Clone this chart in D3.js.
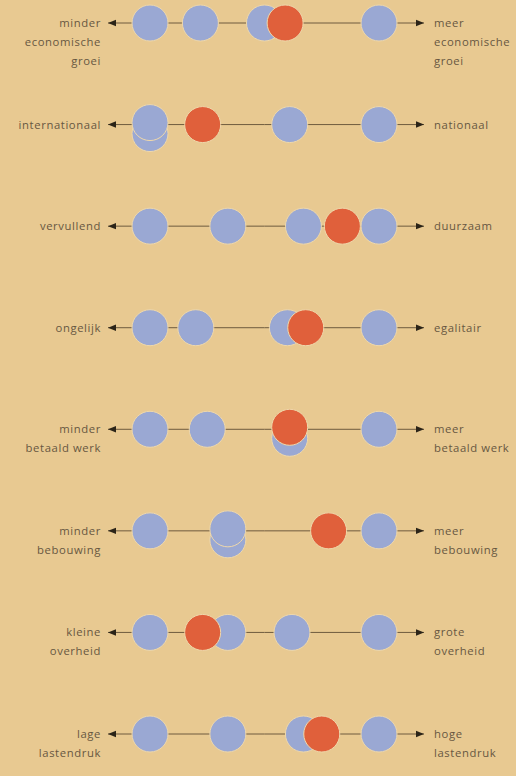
<!DOCTYPE html>
<html>
<head>
<meta charset="utf-8">
<script src="https://d3js.org/d3.v7.min.js"></script>
<style>
  body { margin: 0; background: #e8c991; }
  svg { display: block; }
  .label { font-family: "Open Sans", sans-serif; font-size: 11.3px; letter-spacing: 0.6px; fill: #675741; }
</style>
</head>
<body>
<div id="chart"></div>
<script>
// one row per theme, left pole / right pole
var leftLabels = [
  ["minder", "economische", "groei"],
  ["internationaal"],
  ["vervullend"],
  ["ongelijk"],
  ["minder", "betaald werk"],
  ["minder", "bebouwing"],
  ["kleine", "overheid"],
  ["lage", "lastendruk"]
];
var rightLabels = [
  ["meer", "economische", "groei"],
  ["nationaal"],
  ["duurzaam"],
  ["egalitair"],
  ["meer", "betaald werk"],
  ["meer", "bebouwing"],
  ["grote", "overheid"],
  ["hoge", "lastendruk"]
];
// position on the scale 0 (left) .. 100 (right)
var blueValues = [
  [0, 22, 50, 100],
  [0, 0, 61, 100],
  [0, 34, 67, 100],
  [0, 20, 60, 100],
  [0, 25, 61, 100],
  [0, 34, 34, 100],
  [0, 34, 62, 100],
  [0, 34, 67, 100]
];
var redValues = [59, 23, 84, 68, 61, 78, 23, 75];

var width = 516, height = 776;
var r = 18;

var svg = d3.select("#chart").append("svg")
  .attr("width", width)
  .attr("height", height);

var x = d3.scaleLinear().domain([0, 100]).range([150, 379]);
var y = d3.scalePoint().domain(d3.range(leftLabels.length)).range([23, 734]);

var defs = svg.append("defs");
defs.append("marker")
  .attr("id", "arrow")
  .attr("viewBox", "0 0 10 10")
  .attr("refX", 10).attr("refY", 5)
  .attr("markerWidth", 8).attr("markerHeight", 8)
  .attr("markerUnits", "userSpaceOnUse")
  .attr("orient", "auto")
  .append("path")
  .attr("d", "M0,1 L10,5 L0,9 Z")
  .attr("fill", "#2b2418");

var rows = svg.selectAll(".row")
  .data(leftLabels.map(function(d, i) { return i; }))
  .enter()
  .append("g")
  .attr("class", "row")
  .attr("transform", function(i) { return "translate(0," + y(i) + ")"; });

// axis line with arrows at both ends
rows.append("line")
  .attr("x1", x(50)).attr("x2", x(0) - 42)
  .attr("y1", 0).attr("y2", 0)
  .attr("stroke", "#6e5b3e").attr("stroke-width", 1)
  .attr("marker-end", "url(#arrow)");
rows.append("line")
  .attr("x1", x(50)).attr("x2", x(100) + 45)
  .attr("y1", 0).attr("y2", 0)
  .attr("stroke", "#6e5b3e").attr("stroke-width", 1)
  .attr("marker-end", "url(#arrow)");

// build marks, stacking equal positions vertically
function marks(i) {
  var list = blueValues[i].map(function(v) { return {v: v, red: false}; });
  list.push({v: redValues[i], red: true});
  var groups = d3.group(list, function(d) { return d.v; });
  groups.forEach(function(g) {
    g.sort(function(a, b) { return b.red - a.red; });
    g.forEach(function(d, k) {
      d.stack = k;
      d.dy = g.length > 1 ? (k === 0 ? -2 : 9) : 0;
    });
  });
  // bottom of stack first, red last
  list.sort(function(a, b) {
    return (a.red - b.red) || (b.stack - a.stack);
  });
  return list;
}

rows.selectAll("circle")
  .data(function(i) { return marks(i); })
  .enter()
  .append("circle")
  .attr("cx", function(d) { return x(d.v); })
  .attr("cy", function(d) { return d.dy; })
  .attr("r", r)
  .attr("fill", function(d) { return d.red ? "#e0603b" : "#9aa8d3"; })
  .attr("stroke", "#efd8ab")
  .attr("stroke-width", 1);

// pole labels
rows.append("text")
  .attr("class", "label")
  .attr("text-anchor", "end")
  .attr("x", 101)
  .attr("y", 4)
  .selectAll("tspan")
  .data(function(i) { return leftLabels[i]; })
  .enter()
  .append("tspan")
  .attr("x", 101)
  .attr("dy", function(d, k) { return k === 0 ? 0 : 19; })
  .text(function(d) { return d; });

rows.append("text")
  .attr("class", "label")
  .attr("x", 434)
  .attr("y", 4)
  .selectAll("tspan")
  .data(function(i) { return rightLabels[i]; })
  .enter()
  .append("tspan")
  .attr("x", 434)
  .attr("dy", function(d, k) { return k === 0 ? 0 : 19; })
  .text(function(d) { return d; });
</script>
</body>
</html>
